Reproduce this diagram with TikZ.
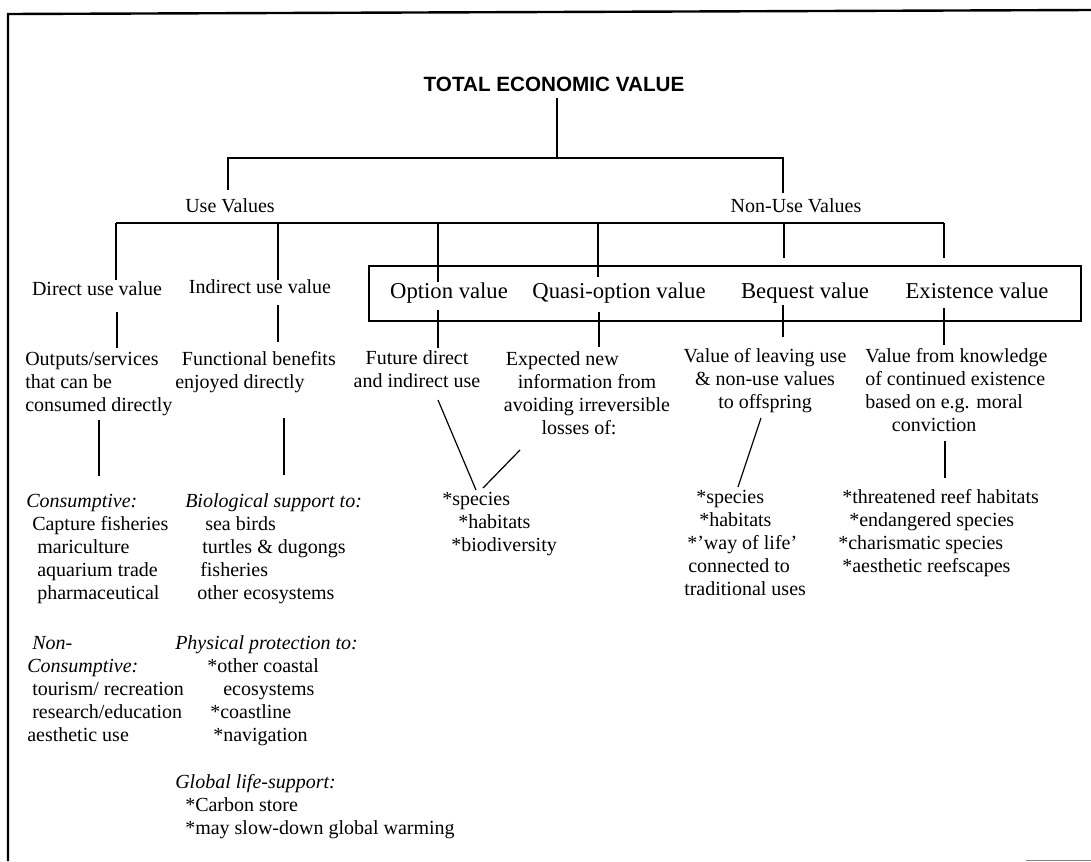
\documentclass[tikz,border=0pt]{standalone}
\usepackage{fontspec}
\setmainfont{Liberation Serif}
\setsansfont{Liberation Sans}
\begin{document}
\begin{tikzpicture}[x=0.75pt,y=-0.75pt,
  body/.style={font=\fontsize{15}{17.4}\selectfont, inner sep=0pt},
  ltxt/.style={body, align=left, anchor=base west},
  ctxt/.style={body, align=center, anchor=base},
  boxlbl/.style={font=\fontsize{17}{20}\selectfont, inner sep=0pt, anchor=base},
  ln/.style={line width=0.9pt, black},
  frameline/.style={line width=1.8pt, black}]
\useasboundingbox (0,0) rectangle (1091,861);
% frame
\coordinate (fTL) at (8,14);
\coordinate (fTR) at (1091,10);
\coordinate (fBL) at (8,861);
\draw[frameline] (fTR) -- (fTL) -- (fBL);
\coordinate (fb1) at (1026,860);
\coordinate (fb2) at (1091,860);
\draw[line width=0.6pt, gray] (fb1) -- (fb2);

% title and first level
\node[font=\sffamily\bfseries\fontsize{15.5}{18}\selectfont, inner sep=0pt, anchor=base] (tev) at (554,91) {TOTAL ECONOMIC VALUE};
\node[ctxt] (use) at (230,212) {Use Values};
\node[ctxt] (nonuse) at (796,212) {Non-Use Values};

% second level
\node[ctxt] (direct) at (97,295) {Direct use value};
\node[ctxt] (indirect) at (260,293) {Indirect use value};
\node[draw, line width=0.9pt, minimum width=534pt, minimum height=41.25pt, inner sep=0pt] (optbox) at (725,293.5) {};
\node[boxlbl] (option) at (449,298) {Option value};
\node[boxlbl] (quasi) at (619,298) {Quasi-option value};
\node[boxlbl] (bequest) at (805,298) {Bequest value};
\node[boxlbl] (existence) at (977,298) {Existence value};

% descriptions (anchored at the baseline of their last line)
\node[ltxt] (dOut) at (25,411.4) {Outputs/services\\that can be\\consumed directly};
\node[ltxt] (dFun) at (175,388.2) {\hspace*{5pt}Functional benefits\\enjoyed directly};
\node[ctxt] (dFut) at (417,387.2) {Future direct\\and indirect use};
\node[ctxt] (dExp) at (587,434.6) {Expected new\hspace*{37pt}\\information from\\avoiding irreversible\\losses of:\hspace*{12pt}};
\node[ctxt] (dBeq) at (765,408.4) {Value of leaving use\\\& non-use values\\to offspring};
\node[ltxt] (dKno) at (865,431.6) {Value from knowledge\\of continued existence\\based on e.g. moral\\\hspace*{20pt}conviction};

% lists
\node[ltxt] (lCons) at (26,599.8) {\textit{Consumptive:}\\\hspace*{4.5pt}Capture fisheries\\\hspace*{8.25pt}mariculture\\\hspace*{8.25pt}aquarium trade\\\hspace*{8.25pt}pharmaceutical};
\node[ltxt] (lNon) at (27,741.8) {\hspace*{3.75pt}\textit{Non-}\\\textit{Consumptive:}\\\hspace*{3.75pt}tourism/ recreation\\\hspace*{3.75pt}research/education\\aesthetic use};
\node[ltxt] (lBio) at (185,599.8) {\textit{Biological support to:}\\\hspace*{15pt}sea birds\\\hspace*{12.75pt}turtles \& dugongs\\\hspace*{11.25pt}fisheries\\\hspace*{9pt}other ecosystems};
\node[ltxt] (lPhys) at (175,741.8) {\textit{Physical protection to:}\\\hspace*{24pt}*other coastal\\\hspace*{36pt}ecosystems\\\hspace*{26.25pt}*coastline\\\hspace*{28.5pt}*navigation};
\node[ltxt] (lGlob) at (175,834.4) {\textit{Global life-support:}\\\hspace*{7.5pt}*Carbon store\\\hspace*{7.5pt}*may slow-down global warming};
\node[ltxt] (lOpt) at (442,551.4) {*species\\\hspace*{12pt}*habitats\\\hspace*{6.75pt}*biodiversity};
\node[ltxt] (lBeq) at (684,595.8) {\hspace*{9pt}*species\\\hspace*{11.25pt}*habitats\\\hspace*{2.25pt}*'way of life'\\\hspace*{3pt}connected to\\traditional uses};
\node[ltxt] (lExi) at (838,572.6) {\hspace*{3pt}*threatened reef habitats\\\hspace*{8.25pt}*endangered species\\*charismatic species\\\hspace*{3pt}*aesthetic reefscapes};

% tree connectors
\coordinate (tevS) at (557,98);
\coordinate (bar1M) at (557,158);
\coordinate (bar1L) at (228,158);
\coordinate (bar1R) at (783,158);
\coordinate (useT) at (228,190);
\coordinate (nonuseT) at (783,193);
\draw[ln] (tevS) -- (bar1M);
\draw[ln] (useT) -- (bar1L) -- (bar1R) -- (nonuseT);

\coordinate (bar2L) at (116,223);
\coordinate (bar2R) at (944,223);
\draw[ln] (bar2L) -- (bar2R);
\coordinate (dirT) at (116,280);
\coordinate (indT) at (278,280);
\coordinate (optT) at (438,282);
\coordinate (quaT) at (598,277);
\coordinate (beqT) at (784,258);
\coordinate (exiT) at (944,258);
\draw[ln] (bar2L) -- (dirT);
\draw[ln] (indT |- bar2L) -- (indT);
\draw[ln] (optT |- bar2L) -- (optT);
\draw[ln] (quaT |- bar2L) -- (quaT);
\draw[ln] (beqT |- bar2L) -- (beqT);
\draw[ln] (bar2R) -- (exiT);

% second level to descriptions
\coordinate (dirB1) at (117,312); \coordinate (dirB2) at (117,348);
\coordinate (indB1) at (278,305); \coordinate (indB2) at (278,342);
\coordinate (optB1) at (438,310); \coordinate (optB2) at (438,348);
\coordinate (quaB1) at (599,312); \coordinate (quaB2) at (599,347);
\coordinate (beqB1) at (783,305); \coordinate (beqB2) at (783,337);
\coordinate (exiB1) at (944,308); \coordinate (exiB2) at (944,345);
\draw[ln] (dirB1) -- (dirB2);
\draw[ln] (indB1) -- (indB2);
\draw[ln] (optB1) -- (optB2);
\draw[ln] (quaB1) -- (quaB2);
\draw[ln] (beqB1) -- (beqB2);
\draw[ln] (exiB1) -- (exiB2);

% descriptions to lists
\coordinate (outL1) at (99,420); \coordinate (outL2) at (99,476);
\coordinate (funL1) at (284,418); \coordinate (funL2) at (284,475);
\coordinate (futL1) at (438,400); \coordinate (optLT) at (476,490);
\coordinate (expL1) at (520,450); \coordinate (optLT2) at (483,488);
\coordinate (beqL1) at (761,418); \coordinate (beqL2) at (738,487);
\coordinate (kno1) at (945,441); \coordinate (kno2) at (945,478);
\draw[ln] (outL1) -- (outL2);
\draw[ln] (funL1) -- (funL2);
\draw[ln] (futL1) -- (optLT);
\draw[ln] (expL1) -- (optLT2);
\draw[ln] (beqL1) -- (beqL2);
\draw[ln] (kno1) -- (kno2);
\end{tikzpicture}
\end{document}
